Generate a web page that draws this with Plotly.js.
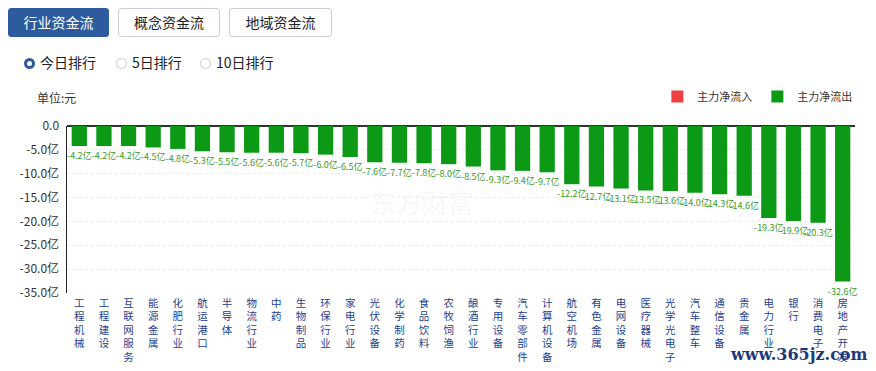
<!DOCTYPE html>
<html><head><meta charset="utf-8">
<script src="https://cdn.plot.ly/plotly-3.0.1.min.js"></script>
<style>
html,body{margin:0;padding:0;background:#fff;width:876px;height:371px;overflow:hidden;font-family:"Noto Sans CJK SC","Noto Sans",sans-serif;}
#chart{position:absolute;left:0;top:0;width:876px;height:371px;}
.tab{position:absolute;top:8px;height:27px;border:1px solid #c9ced6;border-radius:3px;font-size:14px;line-height:27px;text-align:center;color:#222;background:#fff;z-index:2;}
.tab.on{background:#2e5b9e;color:#fff;border-color:#2e5b9e;}
.radio{position:absolute;top:52px;font-size:14px;line-height:20px;color:#222;z-index:2;}
.dot{display:inline-block;width:11px;height:11px;border-radius:50%;border:1px solid #ccc;vertical-align:-1px;margin-right:5px;box-sizing:border-box;}
.dot.on{border:3px solid #2e5b9e;}
</style></head>
<body>
<div class="tab on" style="left:8px;width:99px;">行业资金流</div>
<div class="tab" style="left:118px;width:100px;">概念资金流</div>
<div class="tab" style="left:229px;width:101px;">地域资金流</div>
<div class="radio" style="left:24px;"><span class="dot on"></span>今日排行</div>
<div class="radio" style="left:116px;"><span class="dot"></span>5日排行</div>
<div class="radio" style="left:200px;"><span class="dot"></span>10日排行</div>
<div id="chart"></div>
<script>
var categories = ["工程机械","工程建设","互联网服务","能源金属","化肥行业","航运港口","半导体","物流行业","中药","生物制品","环保行业","家电行业","光伏设备","化学制药","食品饮料","农牧饲渔","酿酒行业","专用设备","汽车零部件","计算机设备","航空机场","有色金属","电网设备","医疗器械","光学光电子","汽车整车","通信设备","贵金属","电力行业","银行","消费电子","房地产开发"];
var outflow = [-4.2,-4.2,-4.2,-4.5,-4.8,-5.3,-5.5,-5.6,-5.6,-5.7,-6.0,-6.5,-7.6,-7.7,-7.8,-8.0,-8.5,-9.3,-9.4,-9.7,-12.2,-12.7,-13.1,-13.5,-13.6,-14.0,-14.3,-14.6,-19.3,-19.9,-20.3,-32.6];
var yTicks = [0,-5,-10,-15,-20,-25,-30,-35];
var yTickText = ["0.0","-5.0亿","-10.0亿","-15.0亿","-20.0亿","-25.0亿","-30.0亿","-35.0亿"];

var xLabels = categories.map(function(c){return c.split("").join("<br>");});
var textLabels = outflow.map(function(v){return v.toFixed(1)+"亿";});

var traces = [
 {type:"bar", name:"主力净流入", x:xLabels, y:categories.map(function(){return null;}), marker:{color:"#f04040"}, hoverinfo:"skip"},
 {type:"bar", name:"主力净流出", x:xLabels, y:outflow, marker:{color:"#0c9a16"},
  text:textLabels, textposition:"outside", constraintext:"none", cliponaxis:false,
  textfont:{size:9, color:"#3a9a2a", family:"Noto Sans CJK SC"}}
];
var layout = {
 width:876, height:371,
 margin:{l:67, r:21, t:126, b:78},
 paper_bgcolor:"rgba(0,0,0,0)", plot_bgcolor:"#fff",
 barmode:"overlay", bargap:0.38,
 font:{family:"Noto Sans CJK SC", size:12, color:"#333"},
 xaxis:{tickfont:{size:10.5, color:"#1f3f8f"}, showline:false, ticks:"", automargin:false, fixedrange:true, showgrid:false, ticklabelstandoff:2},
 yaxis:{range:[-35,0], tickvals:yTicks, ticktext:yTickText, showline:true, linecolor:"#222", linewidth:1.5,
   showgrid:true, gridcolor:"#ececec", griddash:"dot", zeroline:true, zerolinecolor:"#333", zerolinewidth:1.2,
   tickfont:{size:12, color:"#333"}, ticks:"", automargin:false, fixedrange:true, ticklabelstandoff:4},
 showlegend:true,
 legend:{orientation:"h", x:1.003, xanchor:"right", y:0.74, yanchor:"middle", yref:"container",
   font:{size:11, color:"#333"}, traceorder:"normal", bgcolor:"rgba(0,0,0,0)"},
 annotations:[
  {text:"单位:元", xref:"paper", yref:"paper", x:-0.04, y:1.17, xanchor:"left", yanchor:"middle", showarrow:false, font:{size:12, color:"#333"}},
  {text:"东方财富", xref:"paper", yref:"paper", x:0.45, y:0.55, showarrow:false, font:{size:26, color:"rgba(0,0,0,0.05)"}},
  {text:"<b>www.365jz.com</b>", xref:"paper", yref:"paper", x:1.019, y:-0.37, xanchor:"right", yanchor:"middle", showarrow:false, font:{size:16, color:"#1c3a7a", family:"DejaVu Serif"}}
 ]
};
Plotly.newPlot("chart", traces, layout, {displayModeBar:false, staticPlot:true});
</script>
</body></html>
